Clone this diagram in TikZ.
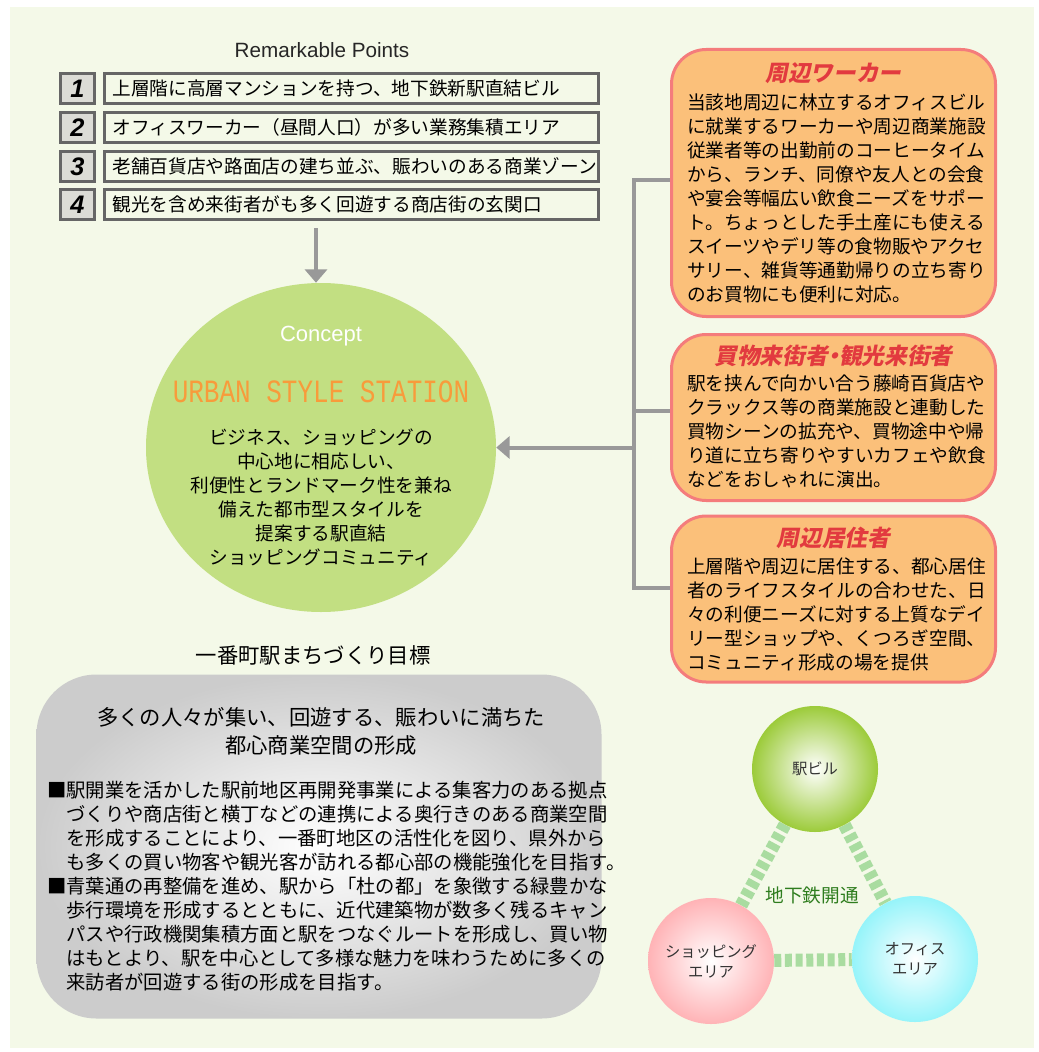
\documentclass[tikz,border=0pt]{standalone}
\usepackage{fontspec}
\setmainfont{Noto Sans CJK JP}
\newfontfamily\latinfont{Liberation Sans}
\newfontfamily\slogfont{Liberation Mono}
\newfontfamily\headfont{Noto Sans CJK JP}[FakeSlant=0.2]
\usepackage{tikz}
\usetikzlibrary{positioning}
\usetikzlibrary{arrows.meta,backgrounds,shapes.geometric}

\definecolor{bgGreen}{HTML}{F4F9E8}
\definecolor{numGray}{HTML}{DCDCD6}
\definecolor{frameGray}{HTML}{666666}
\definecolor{treeGray}{HTML}{999999}
\definecolor{conceptGreen}{HTML}{C2DF82}
\definecolor{urbanOrange}{HTML}{F89B3B}
\definecolor{areaFill}{HTML}{FBC07A}
\definecolor{areaLine}{HTML}{F47C7C}
\definecolor{areaTitle}{HTML}{E23A3F}
\definecolor{linkGreen}{HTML}{A9DCA0}
\definecolor{subwayGreen}{HTML}{2E7D1E}
\definecolor{stationGreen}{HTML}{9CCB3A}
\definecolor{shopPink}{HTML}{FFB3B6}
\definecolor{officeCyan}{HTML}{96F4FA}
\newcommand{\bodysize}{\fontsize{14pt}{18pt}\selectfont}

\begin{document}
\begin{tikzpicture}[x=0.75pt, y=-0.75pt,
	numbox/.style={draw=frameGray, line width=2.25pt, fill=numGray, minimum width=25.5pt, minimum height=22.5pt, inner sep=0pt, font=\latinfont\bfseries\itshape\fontsize{19pt}{19pt}\selectfont},
	pointbox/.style={draw=frameGray, line width=2.25pt, fill=bgGreen, text width=358.5pt, minimum height=22.5pt, inner xsep=6pt, inner ysep=0pt, align=left, font=\bodysize},
	flow/.style={draw=treeGray, line width=3pt, -{Triangle[width=16.5pt,length=10pt]}},
	tree/.style={draw=treeGray, line width=3pt},
	concept/.style={ellipse, fill=conceptGreen, minimum width=262.5pt, minimum height=246.75pt, inner sep=0pt},
	areabox/.style={rectangle, rounded corners=26pt, draw=areaLine, line width=2.25pt, fill=areaFill, minimum width=243pt},
	areatitle/.style={text=areaTitle, font=\headfont\bfseries\fontsize{17pt}{20pt}\selectfont},
	areatext/.style={anchor=base west, align=left, inner sep=0pt, font=\bodysize},
	hub/.style={circle, minimum size=94.5pt, inner sep=0pt, align=center, text=black!80, font=\fontsize{11.5pt}{15pt}\selectfont},
	link/.style={draw=linkGreen, line width=9.75pt, dash pattern=on 5.25pt off 2.75pt}]

	% ---------------------
	% Page
	\useasboundingbox (0,0) rectangle (1038,1052);
	\begin{scope}[on background layer]
		\fill[white] (0,0) rectangle (1038,1052);
		\fill[bgGreen] (10,7) rectangle (1034,1048);
	\end{scope}

	% ---------------------
	% Remarkable points
	\node[font=\latinfont\fontsize{15.5pt}{18pt}\selectfont, text=black!85] (PointsTitle) at (322,50) {Remarkable Points};

	\node[numbox] (n1) at (77.5,88.5) {1};
	\node[pointbox] (p1) at (351.5,88.5) {上層階に高層マンションを持つ、地下鉄新駅直結ビル};
	\node[numbox] (n2) at (77.5,127.5) {2};
	\node[pointbox] (p2) at (351.5,127.5) {オフィスワーカー（昼間人口）が多い業務集積エリア};
	\node[numbox] (n3) at (77.5,166.5) {3};
	\node[pointbox] (p3) at (351.5,166.5) {老舗百貨店や路面店の建ち並ぶ、賑わいのある商業ゾーン};
	\node[numbox] (n4) at (77.5,204.5) {4};
	\node[pointbox] (p4) at (351.5,204.5) {観光を含め来街者がも多く回遊する商店街の玄関口};

	% ---------------------
	% Concept (multi-line texts sit on the baseline of their last line)
	\node[concept] (Concept) at (321,447.5) {};
	\node[text=white, font=\latinfont\fontsize{16.5pt}{18pt}\selectfont] (ConceptLabel) at (321,336) {Concept};
	\node[text=urbanOrange, font=\slogfont\fontsize{19.5pt}{20pt}\selectfont] (Slogan) at (321,392) {\scalebox{1}[1.25]{URBAN STYLE STATION}};
	\node[anchor=base, align=center, inner sep=0pt, font=\bodysize] (ConceptText) at (321,564)
		{ビジネス、ショッピングの\\中心地に相応しい、\\利便性とランドマーク性を兼ね\\備えた都市型スタイルを\\提案する駅直結\\ショッピングコミュニティ};

	\coordinate (PointsOut) at (316,228);
	\draw[flow] (PointsOut) -- (PointsOut |- Concept.north);

	% ---------------------
	% Target groups
	\node[areabox, minimum height=200.25pt] (Worker) at (833.5,183) {};
	\node[areatitle] (WorkerTitle) at (833.5,73) {周辺ワーカー};
	\node[areatext] (WorkerText) at (687,301)
		{当該地周辺に林立するオフィスビル\\に就業するワーカーや周辺商業施設\\従業者等の出勤前のコーヒータイム\\から、ランチ、同僚や友人との会食\\や宴会等幅広い飲食ニーズをサポー\\ト。ちょっとした手土産にも使える\\スイーツやデリ等の食物販やアクセ\\サリー、雑貨等通勤帰りの立ち寄り\\のお買物にも便利に対応。};

	\node[areabox, minimum height=124.5pt] (Visitor) at (833.5,417.5) {};
	\node[areatitle] (VisitorTitle) at (833.5,356) {買物来街者\hspace{-0.25em}・\hspace{-0.25em}観光来街者};
	\node[areatext] (VisitorText) at (687,486)
		{駅を挟んで向かい合う藤崎百貨店や\\クラックス等の商業施設と連動した\\買物シーンの拡充や、買物途中や帰\\り道に立ち寄りやすいカフェや飲食\\などをおしゃれに演出。};

	\node[areabox, minimum height=124.5pt] (Resident) at (833.5,599) {};
	\node[areatitle] (ResidentTitle) at (833.5,538) {周辺居住者};
	\node[areatext] (ResidentText) at (687,669)
		{上層階や周辺に居住する、都心居住\\者のライフスタイルの合わせた、日\\々の利便ニーズに対する上質なデイ\\リー型ショップや、くつろぎ空間、\\コミュニティ形成の場を提供};

	\path (Worker.west) +(0,-3) coordinate (WorkerJoint);
	\path (Visitor.west) +(0,-6.5) coordinate (VisitorJoint);
	\path (Resident.west) +(0,-11) coordinate (ResidentJoint);
	\coordinate (Trunk) at (634,447.5);
	\draw[tree] (WorkerJoint) -| (Trunk |- ResidentJoint) -- (ResidentJoint);
	\draw[tree] (VisitorJoint) -- (Trunk |- VisitorJoint);
	\draw[flow] (Trunk) -- (Concept.east);

	% ---------------------
	% Town planning goal
	\node[font=\fontsize{16pt}{20pt}\selectfont] (GoalTitle) at (313,655) {一番町駅まちづくり目標};
	\node[rectangle, rounded corners=45pt, minimum width=423.75pt, minimum height=258pt, inner color=white, outer color=black!20] (Goal) at (319,846.5) {};
	\node[anchor=base, align=center, inner sep=0pt, font=\fontsize{16pt}{21pt}\selectfont] (GoalHead) at (321,753)
		{多くの人々が集い、回遊する、賑わいに満ちた\\都心商業空間の形成};
	\node[anchor=base west, align=left, inner sep=0pt, font=\fontsize{14.5pt}{18pt}\selectfont] (GoalText) at (47,989)
		{■駅開業を活かした駅前地区再開発事業による集客力のある拠点\\
		\phantom{■}づくりや商店街と横丁などの連携による奥行きのある商業空間\\
		\phantom{■}を形成することにより、一番町地区の活性化を図り、県外から\\
		\phantom{■}も多くの買い物客や観光客が訪れる都心部の機能強化を目指す。\\
		■青葉通の再整備を進め、駅から「杜の都」を象徴する緑豊かな\\
		\phantom{■}歩行環境を形成するとともに、近代建築物が数多く残るキャン\\
		\phantom{■}パスや行政機関集積方面と駅をつなぐルートを形成し、買い物\\
		\phantom{■}はもとより、駅を中心として多様な魅力を味わうために多くの\\
		\phantom{■}来訪者が回遊する街の形成を目指す。};

	% ---------------------
	% Subway triangle
	\node[hub, inner color=white, outer color=stationGreen] (Station) at (815,769) {駅ビル};
	\node[hub, inner color=white, outer color=shopPink] (Shopping) at (711,961) {ショッピング\\エリア};
	\node[hub, inner color=white, outer color=officeCyan] (Office) at (915,959) {オフィス\\エリア};
	\begin{scope}[on background layer]
		\draw[link] (Station) -- (Shopping);
		\draw[link] (Station) -- (Office);
		\draw[link] (Shopping) -- (Office);
	\end{scope}
	\node[text=subwayGreen, font=\bodysize] (Subway) at (812,895) {地下鉄開通};

\end{tikzpicture}
\end{document}
